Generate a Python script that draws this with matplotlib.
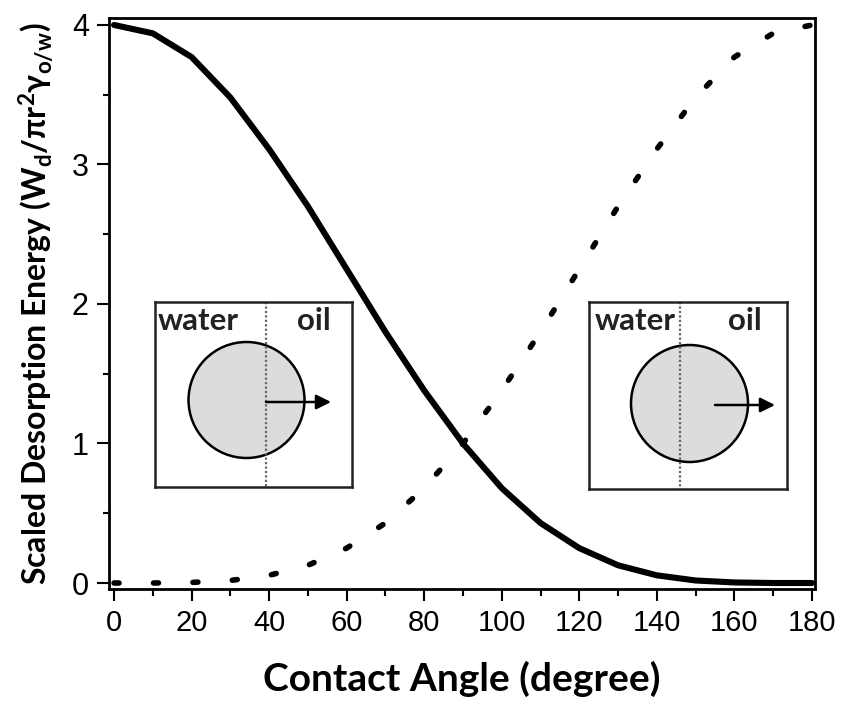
import matplotlib
matplotlib.use('Agg')
import matplotlib.pyplot as plt
from matplotlib.patches import Circle
from matplotlib.ticker import MultipleLocator

plt.rcParams['mathtext.default'] = 'regular'

# contact angle (degree) and scaled desorption energy of both directions
angle = [0, 10, 20, 30, 40, 50, 60, 70, 80, 90,
         100, 110, 120, 130, 140, 150, 160, 170, 180]
energy_solid = [4.0, 3.94, 3.77, 3.48, 3.11, 2.70, 2.25, 1.80, 1.38, 1.0,
                0.68, 0.43, 0.25, 0.127, 0.055, 0.018, 0.004, 0.0, 0.0]
energy_dotted = [0.0, 0.0, 0.004, 0.018, 0.055, 0.127, 0.25, 0.43, 0.68, 1.0,
                 1.38, 1.80, 2.25, 2.70, 3.11, 3.48, 3.77, 3.94, 4.0]

x_ticks = list(range(0, 181, 20))
y_ticks = [0, 1, 2, 3, 4]

tick_font = ['Liberation Sans', 'DejaVu Sans']
label_font = ['Lato', 'DejaVu Sans']

W, H = 841, 702
fig = plt.figure(figsize=(W / 100, H / 100), dpi=100)
ax = fig.add_axes([109 / W, 1 - 589 / H, (815 - 109) / W, (589 - 18) / H])

ax.plot(angle, energy_solid, color='black', lw=4.4, solid_capstyle='round',
        solid_joinstyle='round')
ax.plot(angle, energy_dotted, color='black', lw=4.0, linestyle=(0, (0.9, 6.2)),
        dash_capstyle='round')

ax.set_xlim(-1.3, 180.8)
ax.set_ylim(-0.043, 4.05)
ax.set_xticks(x_ticks)
ax.set_yticks(y_ticks)
ax.xaxis.set_minor_locator(MultipleLocator(10))
ax.yaxis.set_minor_locator(MultipleLocator(0.5))
ax.tick_params(which='major', direction='out', length=8.5, width=1.5, pad=6,
               top=False, right=False)
ax.tick_params(which='minor', direction='out', length=5, width=1.5,
               top=False, right=False)
ax.tick_params(axis='y', which='minor', length=4)
for lab in ax.get_xticklabels():
    lab.set_family(tick_font)
    lab.set_fontsize(21)
for lab in ax.get_yticklabels():
    lab.set_family(tick_font)
    lab.set_fontsize(22)
for s in ax.spines.values():
    s.set_linewidth(2.0)

ax.set_xlabel('Contact Angle (degree)', family=label_font, fontweight='bold',
              fontsize=28, labelpad=17)
ax.set_ylabel('Scaled Desorption Energy (W$_{d}$/πr$^{2}$γ$_{o/w}$)',
              family=label_font, fontweight='bold', fontsize=23, labelpad=12)


def sketch(left, top, w, h, cx, cy, r, line_x, arrow_from, arrow_to, arrow_y,
           water_x, oil_x):
    # small particle-at-interface picture, drawn in pixel units of its box
    a = fig.add_axes([left / W, 1 - (top + h) / H, w / W, h / H])
    a.set_xlim(0, w)
    a.set_ylim(h, 0)
    a.set_xticks([])
    a.set_yticks([])
    for s in a.spines.values():
        s.set_linewidth(1.8)
        s.set_color('#222222')
    a.add_patch(Circle((cx, cy), r, facecolor='#dcdcdc', edgecolor='black',
                       lw=1.8, zorder=1))
    a.plot([line_x, line_x], [0, h], color='#666666', lw=1.6, ls=(0, (1, 1)),
           zorder=2)
    a.annotate('', xy=(arrow_to, arrow_y), xytext=(arrow_from, arrow_y),
               arrowprops=dict(arrowstyle='-|>', color='black', lw=1.8,
                               mutation_scale=22, shrinkA=0, shrinkB=0),
               zorder=3)
    a.text(water_x, 28, 'water', family=label_font, fontweight='bold',
           fontsize=22.5, color='#222222', ha='left', va='baseline')
    a.text(oil_x, 28, 'oil', family=label_font, fontweight='bold',
           fontsize=22.5, color='#222222', ha='left', va='baseline')


sketch(155, 302, 197, 185, 91.5, 98, 58, 111, 111, 176, 100, 3, 142)
sketch(589, 302, 198, 187, 100.5, 101.5, 58.5, 91, 126, 186, 103, 6, 139)

fig.savefig('out.png', dpi=100)
